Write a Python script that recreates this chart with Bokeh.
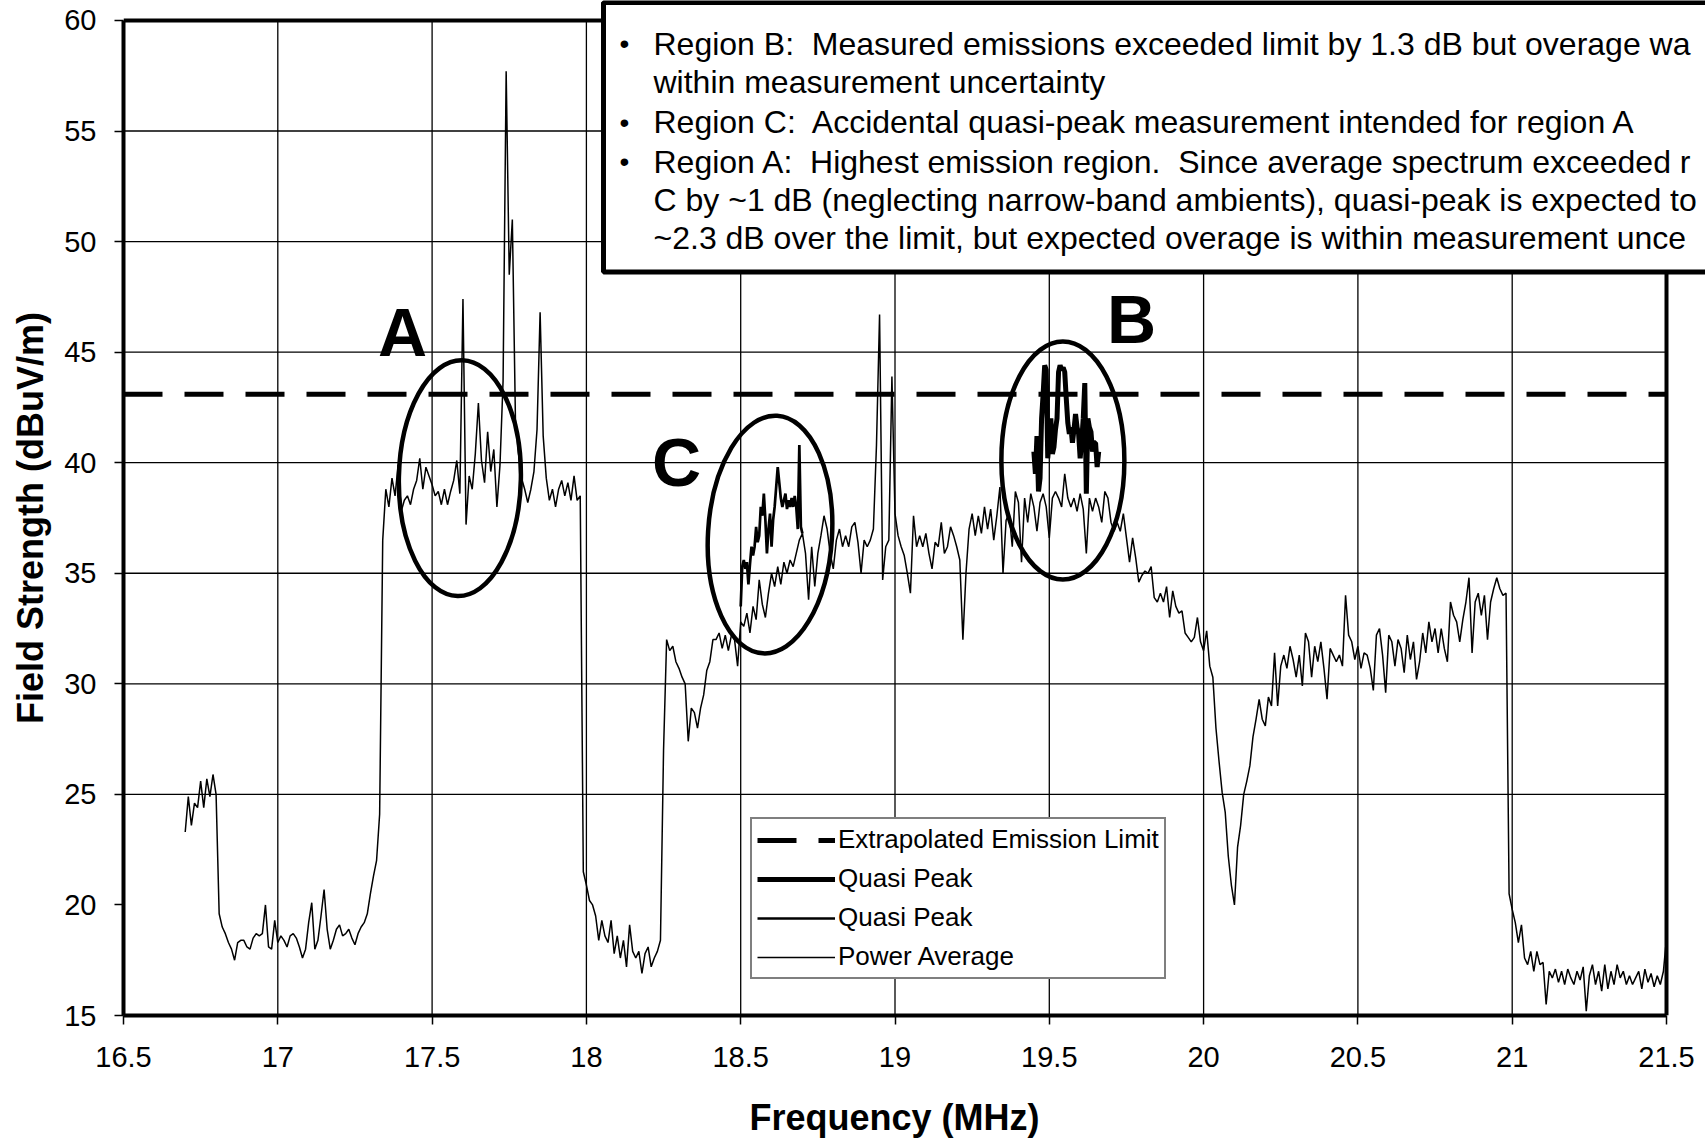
import numpy as np
from bokeh.plotting import figure
from bokeh.models import Range1d, FixedTicker, Label, BoxAnnotation, Legend, LegendItem
from bokeh.embed import file_html
from bokeh.resources import INLINE

FONT = "Liberation Sans"
NB = "\u00a0"

# ---------------- data ----------------
X_TICKS = [16.5, 17.0, 17.5, 18.0, 18.5, 19.0, 19.5, 20.0, 20.5, 21.0, 21.5]
X_TICK_LABELS = ["16.5", "17", "17.5", "18", "18.5", "19", "19.5", "20", "20.5", "21", "21.5"]
Y_TICKS = [15, 20, 25, 30, 35, 40, 45, 50, 55, 60]
Y_GRID = [25, 30, 35, 40, 45, 50, 55]
X_GRID = [17.0, 17.5, 18.0, 18.5, 19.0, 19.5, 20.0, 20.5, 21.0]

EMISSION_LIMIT = 43.1          # dBuV/m
LIMIT_FREQ = [16.5, 21.5]      # MHz

# Power Average sweep: 16.70 MHz .. 21.50 MHz, 0.01 MHz per point
PA_START = 16.70
PA_STEP = 0.01
POWER_AVG = [
    23.3, 24.9, 23.6, 24.6, 24.4, 25.6, 24.4, 25.7, 24.9, 25.9,   # 16.7x
    25.0, 19.6, 19.0, 18.7, 18.3, 18.0, 17.5, 18.3, 18.4, 18.4,   # 16.8x
    18.1, 18.0, 18.5, 18.7, 18.6, 18.7, 20.0, 18.1, 18.0, 19.3,   # 16.9x
    18.3, 18.6, 18.4, 18.1, 18.6, 18.7, 18.5, 18.1, 17.6, 18.0,   # 17.0x
    19.2, 20.1, 18.0, 18.4, 19.5, 20.7, 18.9, 18.0, 18.4, 18.9,   # 17.1x
    19.1, 18.6, 18.7, 18.9, 18.5, 18.2, 18.7, 19.0, 19.2, 19.6,   # 17.2x
    20.5, 21.3, 22.0, 24.1, 36.5, 38.8, 38.0, 39.3, 38.5, 39.9,   # 17.3x
    37.8, 38.3, 38.5, 38.1, 38.8, 39.2, 40.2, 38.8, 39.8, 39.4,   # 17.4x
    39.0, 38.5, 38.7, 38.1, 38.8, 38.1, 38.7, 39.2, 40.1, 38.6,   # 17.5x
    47.4, 37.2, 39.4, 38.8, 40.4, 42.7, 40.1, 39.1, 41.4, 39.6,   # 17.6x
    40.6, 38.0, 39.9, 43.7, 57.7, 48.5, 51.0, 42.0, 40.4, 39.3,   # 17.7x
    38.8, 38.2, 38.8, 39.6, 41.5, 46.8, 41.2, 39.3, 38.3, 38.8,   # 17.8x
    38.0, 38.8, 39.2, 38.5, 39.1, 38.3, 39.4, 38.3, 38.5, 21.5,   # 17.9x
    20.9, 20.2, 20.0, 19.5, 18.4, 19.3, 18.6, 18.3, 19.3, 17.8,   # 18.0x
    18.6, 17.6, 18.4, 17.2, 19.1, 17.9, 17.6, 17.9, 16.9, 17.8,   # 18.1x
    18.1, 17.2, 17.6, 17.9, 18.4, 27.0, 32.0, 31.5, 31.7, 31.0,   # 18.2x
    30.7, 30.3, 30.0, 27.4, 28.9, 28.7, 28.0, 28.9, 29.5, 30.6,   # 18.3x
    31.0, 32.0, 32.0, 32.3, 31.6, 32.2, 31.5, 32.2, 32.0, 30.8,   # 18.4x
    32.8, 32.6, 33.2, 32.3, 33.5, 32.9, 34.7, 33.6, 33.0, 34.1,   # 18.5x
    35.0, 34.4, 35.3, 34.5, 35.5, 35.0, 35.6, 35.3, 35.9, 36.5,   # 18.6x
    36.8, 35.9, 33.8, 36.2, 34.4, 35.9, 36.7, 37.6, 37.0, 35.9,   # 18.7x
    35.2, 36.5, 37.0, 36.2, 36.7, 36.2, 37.1, 37.3, 36.4, 35.0,   # 18.8x
    36.5, 36.2, 36.5, 37.0, 40.8, 46.7, 34.7, 36.2, 36.5, 43.9,   # 18.9x
    37.7, 36.7, 36.2, 35.8, 35.0, 34.1, 37.6, 36.2, 36.7, 36.2,   # 19.0x
    36.8, 35.9, 35.2, 36.4, 36.2, 37.3, 35.9, 36.2, 37.1, 36.7,   # 19.1x
    36.2, 35.6, 32.0, 35.0, 37.0, 37.7, 36.7, 37.6, 36.8, 38.0,   # 19.2x
    37.0, 37.9, 36.5, 37.6, 38.9, 35.0, 37.4, 37.7, 36.2, 38.7,   # 19.3x
    38.2, 35.5, 38.4, 37.3, 38.6, 38.0, 36.9, 38.2, 38.6, 38.0,   # 19.4x
    36.6, 38.4, 38.7, 38.4, 38.0, 39.5, 38.4, 38.0, 38.4, 37.8,   # 19.5x
    38.6, 37.9, 35.9, 38.4, 37.8, 38.4, 38.0, 37.3, 38.7, 38.4,   # 19.6x
    37.3, 36.9, 37.3, 36.9, 37.7, 36.6, 35.5, 36.6, 35.7, 34.6,   # 19.7x
    34.9, 35.1, 35.0, 35.3, 33.9, 33.7, 34.1, 33.7, 34.4, 33.0,   # 19.8x
    34.2, 33.5, 33.2, 33.3, 32.3, 32.1, 31.9, 32.1, 33.0, 31.9,   # 19.9x
    31.5, 32.4, 30.8, 30.3, 28.0, 26.5, 25.1, 24.2, 22.2, 20.9,   # 20.0x
    20.0, 22.6, 23.6, 25.0, 25.6, 26.3, 27.6, 28.4, 29.3, 28.4,   # 20.1x
    28.1, 29.4, 29.0, 31.4, 29.0, 30.8, 31.3, 30.7, 31.7, 31.1,   # 20.2x
    30.3, 31.3, 29.9, 32.3, 31.9, 30.3, 31.7, 31.0, 31.9, 30.7,   # 20.3x
    29.3, 31.6, 31.3, 31.0, 31.3, 30.8, 34.0, 32.2, 31.9, 31.1,   # 20.4x
    31.7, 30.7, 31.4, 31.3, 30.7, 29.7, 32.2, 32.5, 31.3, 29.6,   # 20.5x
    32.2, 31.9, 30.8, 32.0, 31.6, 30.5, 32.2, 31.1, 31.9, 30.2,   # 20.6x
    31.0, 32.3, 31.4, 32.8, 31.9, 32.5, 31.4, 32.5, 31.6, 31.0,   # 20.7x
    33.7, 33.1, 32.8, 31.9, 32.9, 33.7, 34.8, 31.4, 33.7, 34.1,   # 20.8x
    33.1, 34.0, 32.0, 33.7, 34.3, 34.8, 34.3, 34.0, 34.1, 20.5,   # 20.9x
    19.8, 19.2, 18.3, 19.1, 17.6, 17.3, 17.9, 17.0, 17.9, 17.3,   # 21.0x
    17.4, 15.5, 17.0, 16.7, 17.1, 16.5, 17.0, 16.4, 17.1, 16.7,   # 21.1x
    16.4, 17.0, 16.6, 17.2, 15.2, 16.8, 17.3, 16.4, 17.0, 16.1,   # 21.2x
    17.3, 16.2, 17.0, 16.4, 17.3, 16.7, 17.0, 16.4, 16.8, 16.4,   # 21.3x
    16.7, 17.0, 16.2, 17.1, 16.5, 16.9, 16.3, 16.8, 16.4, 17.0,   # 21.4x
    18.5,                                                         # 21.50
]

# Quasi-peak measurement in region C: 18.500 .. 18.700 MHz, 0.005 MHz per point
QPC_START = 18.500
QPC_STEP = 0.005
QUASI_PEAK_C = [
    33.5, 35.3, 35.6, 35.2, 35.5, 34.5, 35.4, 36.2, 35.8, 36.2,
    37.1, 36.4, 36.7, 38.0, 37.6, 38.6, 37.4, 35.9, 37.0, 37.7,
    36.2, 37.4, 38.0, 38.9, 39.8, 39.1, 38.4, 38.0, 38.3, 38.6,
    37.9, 38.3, 38.0, 38.4, 38.0, 38.5, 38.0, 37.0, 40.8, 37.1,
    36.8,
]

# Quasi-peak measurement in region B: 19.450 .. 19.660 MHz, 0.005 MHz per point
QPB_START = 19.450
QPB_STEP = 0.005
QUASI_PEAK_B = [
    40.5, 39.5, 41.2, 38.7, 39.3, 42.0, 43.1, 44.4, 44.2, 40.2,
    41.1, 42.0, 40.4, 40.7, 41.5, 42.0, 44.1, 44.4, 44.2, 44.3,
    44.1, 42.9, 41.8, 41.3, 41.6, 40.9, 41.5, 42.2, 41.6, 41.3,
    40.2, 41.0, 42.0, 43.6, 38.6, 42.0, 41.6, 41.4, 40.5, 40.9,
    40.9, 39.8, 40.5,
]

# note box text, as far as it is visible in the original (the box runs off the page)
NOTE_LINES = [
    "Region B:" + NB + " Measured emissions exceeded limit by 1.3 dB but overage wa",
    "within measurement uncertainty",
    "Region C:" + NB + " Accidental quasi-peak measurement intended for region A",
    "Region A:" + NB + " Highest emission region." + NB + " Since average spectrum exceeded r",
    "C by ~1 dB (neglecting narrow-band ambients), quasi-peak is expected to",
    "~2.3 dB over the limit, but expected overage is within measurement unce",
]
NOTE_BULLETS = [True, False, True, True, False, False]

X_TITLE = "Frequency (MHz)"
Y_TITLE = "Field Strength (dBuV/m)"

pa_freq = PA_START + PA_STEP * np.arange(len(POWER_AVG))
qpc_freq = QPC_START + QPC_STEP * np.arange(len(QUASI_PEAK_C))
qpb_freq = QPB_START + QPB_STEP * np.arange(len(QUASI_PEAK_B))

# ---------------- layout helpers (page pixels -> data coords, for annotations) ----------------
W, H = 1705, 1140
FL, FR, FT, FB = 123, 1666, 20, 1017          # the plotted box 16.5..21.5 x 15..60
XMIN, XMAX, YMIN, YMAX = 16.5, 21.5, 15.0, 60.0
SX = (XMAX - XMIN) / (FR - FL)
SY = (YMAX - YMIN) / (FB - FT)
X_VIEW_MAX = XMAX + (W - FR) * SX              # frame runs to the page edge so the
Y_VIEW_MAX = YMAX + FT * SY                    # note box can run off the page


def px_x(px):
    return XMIN + (px - FL) * SX


def px_y(py):
    return YMAX - (py - FT) * SY


p = figure(width=W, height=H, output_backend="svg", toolbar_location=None,
           x_range=Range1d(XMIN, X_VIEW_MAX), y_range=Range1d(YMIN, Y_VIEW_MAX),
           min_border_left=FL, min_border_right=0,
           min_border_top=0, min_border_bottom=H - FB)
p.background_fill_color = "white"
p.border_fill_color = "white"
p.outline_line_color = None
p.xgrid.visible = False
p.ygrid.visible = False

# axes
xa = p.xaxis[0]
ya = p.yaxis[0]
xa.ticker = FixedTicker(ticks=X_TICKS)
xa.major_label_overrides = {t: l for t, l in zip(X_TICKS, X_TICK_LABELS)}
xa.bounds = (XMIN, XMAX)
ya.ticker = FixedTicker(ticks=Y_TICKS)
ya.bounds = (YMIN, YMAX)
for ax in (xa, ya):
    ax.axis_line_color = "black"
    ax.axis_line_width = 4
    ax.major_tick_line_color = "black"
    ax.major_tick_line_width = 1.5
    ax.major_tick_in = 0
    ax.major_tick_out = 9
    ax.minor_tick_in = 0
    ax.minor_tick_out = 0
    ax.major_label_text_font = FONT
    ax.major_label_text_font_size = "29px"
    ax.major_label_text_color = "black"
    ax.axis_label_text_font = FONT
    ax.axis_label_text_font_style = "bold"
    ax.axis_label_text_font_size = "36px"
    ax.axis_label_text_color = "black"
# the axis titles are centred on the whole frame (which runs to the page edge);
# trailing no-break spaces re-centre them on the plotted box
xa.axis_label = X_TITLE + NB * 4
ya.axis_label = Y_TITLE + NB * 2
xa.major_label_standoff = 22
xa.axis_label_standoff = 27
ya.major_label_standoff = 18
ya.axis_label_standoff = 10

# grid lines, limited to the plotted box
p.multi_line(xs=[[x, x] for x in X_GRID], ys=[[YMIN, YMAX] for _ in X_GRID],
             line_color="black", line_width=1.3)
p.multi_line(xs=[[XMIN, XMAX] for _ in Y_GRID], ys=[[y, y] for y in Y_GRID],
             line_color="black", line_width=1.3)

# traces
r_pa = p.line(pa_freq, POWER_AVG, line_color="black", line_width=1.5)
r_qpc = p.line(qpc_freq, QUASI_PEAK_C, line_color="black", line_width=2.7)
r_qpb = p.line(qpb_freq, QUASI_PEAK_B, line_color="black", line_width=5)
r_lim = p.line(LIMIT_FREQ, [EMISSION_LIMIT, EMISSION_LIMIT], line_color="black",
               line_width=5, line_dash="39 22")

# top and right edges of the plotted box
p.line([XMIN, XMAX, XMAX], [YMAX, YMAX, YMIN], line_color="black", line_width=4)

# region ellipses (sizes in screen pixels)
p.ellipse(x=[17.59, 18.595, 19.544], y=[39.3, 36.75, 40.1],
          width=[122, 124, 123], height=[236, 238, 238], angle=[-0.02, -0.06, 0.0],
          width_units="screen", height_units="screen",
          fill_alpha=0, line_color="black", line_width=4.5)

# region letters
for letter, cx, cy in (("A", 402, 332), ("B", 1131, 319), ("C", 676, 462)):
    p.add_layout(Label(x=px_x(cx), y=px_y(cy), text=letter, text_font=FONT,
                       text_font_style="bold", text_font_size="68px",
                       text_align="center", text_baseline="middle",
                       text_color="black"))

# note box
p.add_layout(BoxAnnotation(left=px_x(603), right=X_VIEW_MAX + 1.0, top=px_y(2), bottom=px_y(272),
                           fill_color="white", fill_alpha=1.0,
                           line_color="black", line_alpha=1.0, line_width=5))
NOTE_Y = [43.5, 82, 122, 161.5, 200, 238]
for txt, has_bullet, yc in zip(NOTE_LINES, NOTE_BULLETS, NOTE_Y):
    p.add_layout(Label(x=px_x(653), y=px_y(yc), text=txt, text_font=FONT,
                       text_font_size="32px", text_baseline="middle",
                       text_align="left", text_color="black"))
    if has_bullet:
        p.add_layout(Label(x=px_x(624), y=px_y(yc), text="\u2022", text_font=FONT,
                           text_font_size="28px", text_baseline="middle",
                           text_align="center", text_color="black"))

# legend
legend = Legend(items=[
    LegendItem(label="Extrapolated Emission Limit", renderers=[r_lim]),
    LegendItem(label="Quasi Peak", renderers=[r_qpb]),
    LegendItem(label="Quasi Peak", renderers=[r_qpc]),
    LegendItem(label="Power Average", renderers=[r_pa]),
], location=(750 - FL, FB - 981))
legend.border_line_color = "black"
legend.border_line_width = 2.5
legend.padding = 5
legend.spacing = 8
legend.label_height = 30
legend.glyph_height = 30
legend.glyph_width = 78
legend.label_standoff = 3
legend.margin = 0
legend.label_text_font = FONT
legend.label_text_font_size = "26px"
legend.label_text_color = "black"
legend.background_fill_color = "white"
legend.background_fill_alpha = 1.0
p.add_layout(legend)

open("out.html", "w").write(file_html(p, INLINE))
